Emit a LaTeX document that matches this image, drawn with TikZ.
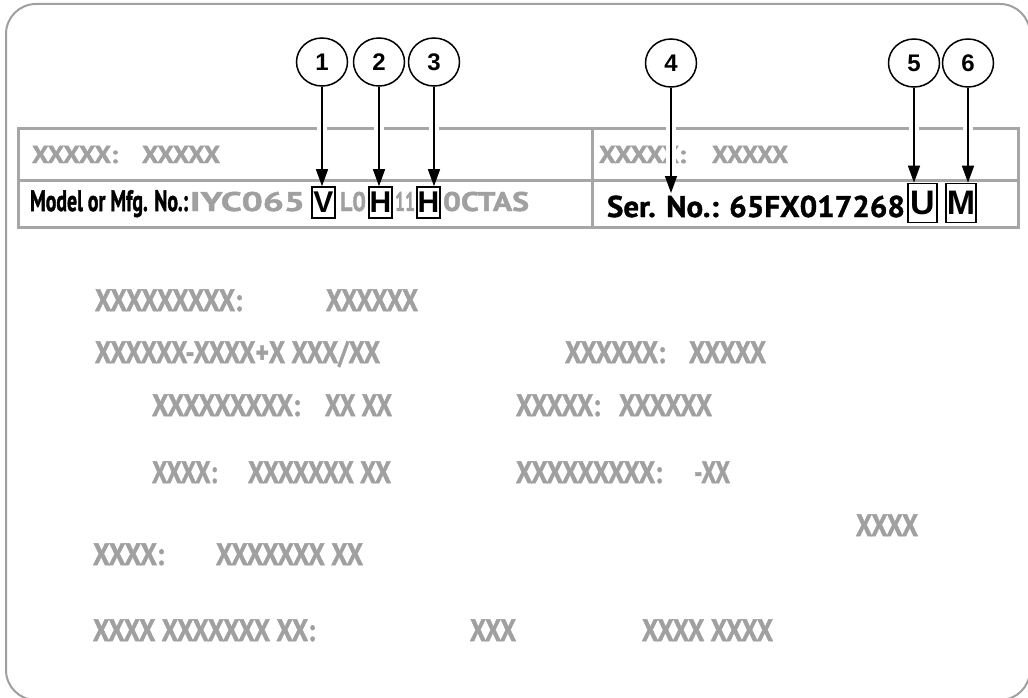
\documentclass[tikz,border=0pt]{standalone}
\usepackage{fontspec}
\setmainfont{PT Sans}[FakeBold=1.2]
\newfontfamily\grayfont{PT Sans}[FakeBold=1.8]
\newfontfamily\codefont{PT Sans}[FakeBold=1.5]
\newfontfamily\numfont{Liberation Sans}
\usetikzlibrary{arrows.meta,shapes.geometric}
\definecolor{lbl}{HTML}{A0A0A0}
\definecolor{frame}{HTML}{A6A6A6}
\definecolor{outline}{HTML}{A0A0A0}
\newcommand\fitw[2]{\resizebox{#1pt}{\height}{#2}}
\begin{document}
\begin{tikzpicture}[x=1pt,y=-1pt,
  gx/.style={anchor=base west, inner sep=0pt, outer sep=0pt, text=lbl, font=\grayfont\bfseries\fontsize{31}{32}\selectfont},
  gs/.style={gx, font=\grayfont\bfseries\fontsize{24.5}{26}\selectfont},
  gm/.style={gx, font=\codefont\bfseries\fontsize{27}{28}\selectfont},
  bk/.style={anchor=base west, inner sep=0pt, outer sep=0pt, text=black},
  num/.style={ellipse, draw=black, line width=1.5pt, minimum width=51pt, minimum height=48pt, inner sep=0pt, font=\numfont\bfseries\fontsize{24}{24}\selectfont},
  lbox/.style={draw=black, line width=1.6pt, inner sep=0pt, font=\numfont\bfseries\fontsize{30}{30}\selectfont},
  arr/.style={line width=1.4pt, -{Triangle[length=17pt,width=12pt]}},
  halo/.style={white, line width=10pt},
  frameline/.style={draw=frame, line width=3pt}
]
\useasboundingbox (0,0) rectangle (1028,698);
\begin{scope}
\clip (0,0) rectangle (1028,698);
\draw[draw=outline, line width=2pt, rounded corners=30pt] (6,4) rectangle (1030,700);
\end{scope}
% table
\draw[frameline] (18,129) rectangle (1018,227);
\draw[frameline] (18,180) -- (1018,180);
\draw[frameline] (592,129) -- (592,227);
% row 1
\node[gs] (r1a) at (32,163) {\fitw{86}{XXXXX:}};
\node[gs] (r1b) at (142,163) {\fitw{78}{XXXXX}};
\node[gs] (r1c) at (599,163) {\fitw{87}{XXXXX:}};
\node[gs] (r1d) at (712,163) {\fitw{76}{XXXXX}};
% row 2 left
\node[bk, font=\grayfont\bfseries\fontsize{29.5}{30}\selectfont] (mdl) at (30,211) {\fitw{158}{Model or Mfg. No.:}};
\node[gm] (m1) at (190,211) {\fitw{115}{IYC065}};
\node[lbox, minimum width=23pt, minimum height=31pt] (bV) at (323.5,202.5) {V};
\node[gm] (m2) at (340,211) {\fitw{26}{L0}};
\node[lbox, minimum width=23pt, minimum height=31pt] (bH1) at (380.5,202.5) {H};
\node[gm] (m3) at (395,211) {\fitw{20}{11}};
\node[lbox, minimum width=23pt, minimum height=31pt] (bH2) at (428.5,202.5) {H};
\node[gm] (m4) at (443,211) {\fitw{86}{0CTAS}};
% row 2 right
\node[bk, font=\bfseries\fontsize{30}{31}\selectfont] (ser) at (607,217) {\fitw{298}{Ser. No.: 65FX017268}};
\node[lbox, minimum width=29pt, minimum height=39pt, font=\numfont\bfseries\fontsize{34}{34}\selectfont] (bU) at (922.5,203) {U};
\node[lbox, minimum width=30pt, minimum height=39pt, font=\numfont\bfseries\fontsize{34}{34}\selectfont] (bM) at (961,203) {M};
% lower texts
\node[gx] (a1) at (95,311) {\fitw{147}{XXXXXXXXX:}};
\node[gx] (a2) at (326,311) {\fitw{92}{XXXXXX}};
\node[gx] (b1) at (95,363) {\fitw{285}{XXXXXX-XXXX+X XXX/XX}};
\node[gx] (b2) at (565,363) {\fitw{100}{XXXXXX:}};
\node[gx] (b3) at (689,363) {\fitw{77}{XXXXX}};
\node[gx] (c1t) at (152,416) {\fitw{148}{XXXXXXXXX:}};
\node[gx] (c2t) at (325,416) {\fitw{67}{XX XX}};
\node[gx] (c3t) at (516,416) {\fitw{84}{XXXXX:}};
\node[gx] (c4t) at (619,416) {\fitw{93}{XXXXXX}};
\node[gx] (d1) at (152,483) {\fitw{65}{XXXX:}};
\node[gx] (d2) at (248,483) {\fitw{143}{XXXXXXX XX}};
\node[gx] (d3) at (516,483) {\fitw{146}{XXXXXXXXX:}};
\node[gx] (d4) at (694,483) {\fitw{36}{-XX}};
\node[gx] (e1) at (856,536) {\fitw{62}{XXXX}};
\node[gx] (f1) at (93,565) {\fitw{71}{XXXX:}};
\node[gx] (f2) at (216,565) {\fitw{147}{XXXXXXX XX}};
\node[gx] (g1) at (93,641) {\fitw{222}{XXXX XXXXXXX XX:}};
\node[gx] (g2) at (470,641) {\fitw{46}{XXX}};
\node[gx] (g3) at (642,641) {\fitw{131}{XXXX XXXX}};
% callouts
\node[num] (n1) at (322,62) {1};
\node[num] (n2) at (379,62) {2};
\node[num] (n3) at (434,62) {3};
\node[num] (n4) at (671,63) {4};
\node[num] (n5) at (914,63) {5};
\node[num] (n6) at (968,63) {6};
\coordinate (t4) at (671,193);
\foreach \n in {n1,n2,n3,n4,n5,n6}{
  \draw[halo] (\n.south) -- (\n.south |- 0,172);
}
\foreach \n/\b in {n1/bV,n2/bH1,n3/bH2,n5/bU,n6/bM}{
  \draw[arr] (\n.south) -- (\n.south |- \b.north);
}
\draw[arr] (n4.south) -- (t4);
\end{tikzpicture}
\end{document}
